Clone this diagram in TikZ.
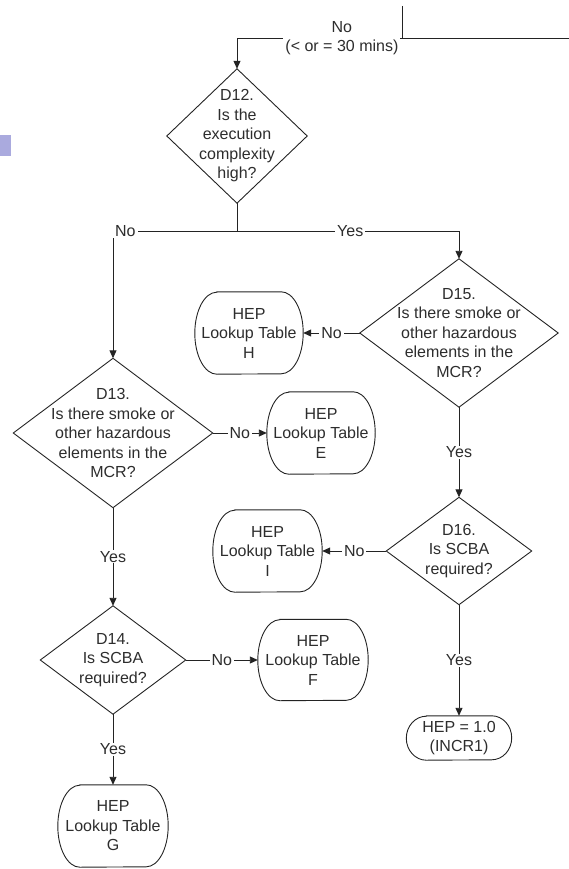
\documentclass[tikz,border=0pt]{standalone}
\usepackage{fontspec}
\setmainfont{Liberation Sans}
\usetikzlibrary{arrows.meta,calc}
\definecolor{ink}{RGB}{35,35,35}
\definecolor{txt}{RGB}{45,45,45}
\definecolor{tabmark}{RGB}{170,170,222}

% outline of a terminal box: node name, corner x radius, half height
\newcommand\termoutline[3]{%
  \draw[flowline] ([xshift=#2]#1.north west) -- ([xshift=-#2]#1.north east)
    arc[start angle=90,end angle=-90,x radius=#2,y radius=#3]
    -- ([xshift=#2]#1.south west)
    arc[start angle=270,end angle=90,x radius=#2,y radius=#3] -- cycle;}

\begin{document}
\begin{tikzpicture}[x=1pt,y=-1pt,
  every node/.style={font=\fontsize{16}{19.5}\selectfont, text=txt, align=center},
  decision/.style 2 args={minimum width=#1pt, minimum height=#2pt, inner sep=0pt},
  terminal/.style 2 args={minimum width=#1pt, minimum height=#2pt, inner sep=0pt},
  flowline/.style={draw=ink, line width=0.9pt},
  arrowline/.style={flowline, -{Triangle[length=8pt,width=7pt]}},
  lbl/.style={fill=white, inner xsep=2pt, inner ysep=1pt}]

\useasboundingbox (0,0) rectangle (569,869);

% side tab
\fill[tabmark] (0,135) rectangle (11,156);

% decisions
\node[decision={140}{134}] (d12) at (237,136) {D12.\\Is the\\execution\\complexity\\high?};
\node[decision={198}{148}] (d15) at (459,333) {D15.\\Is there smoke or\\other hazardous\\elements in the\\MCR?};
\node[decision={199}{149}] (d13) at (113,433) {D13.\\Is there smoke or\\other hazardous\\elements in the\\MCR?};
\node[decision={145}{107}] (d16) at (459,551) {D16.\\Is SCBA\\required?};
\node[decision={145}{108}] (d14) at (113,660) {D14.\\Is SCBA\\required?};
\foreach \n in {d12,d13,d14,d15,d16}
  \draw[flowline] (\n.north) -- (\n.east) -- (\n.south) -- (\n.west) -- cycle;

% outcomes
\node[terminal={108}{82}] (hH) at (249,333) {HEP\\Lookup Table\\H};
\node[terminal={108}{82}] (hE) at (321,433) {HEP\\Lookup Table\\E};
\node[terminal={109}{82}] (hI) at (267.5,551) {HEP\\Lookup Table\\I};
\node[terminal={110}{81}] (hF) at (313,660) {HEP\\Lookup Table\\F};
\node[terminal={110}{82}] (hG) at (113,826) {HEP\\Lookup Table\\G};
\node[terminal={105}{44}] (hX) at (459,738) {HEP = 1.0\\(INCR1)};
\termoutline{hH}{22pt}{41pt}
\termoutline{hE}{22pt}{41pt}
\termoutline{hI}{22pt}{41pt}
\termoutline{hF}{22pt}{40.5pt}
\termoutline{hG}{22pt}{41pt}
\termoutline{hX}{20pt}{22pt}

% incoming branch
\coordinate (feed) at (569,38);
\coordinate (tap) at (402,6);
\coordinate (tapjoin) at (402,38);
\draw[flowline] (tap) -- (tapjoin);
\draw[arrowline] (feed) -| node[lbl,pos=0.342]{No\\(< or = 30 mins)} (d12.north);

% D12 split
\coordinate (split) at (237,231);
\draw[flowline] (d12.south) -- (split);
\draw[arrowline] (split) -| node[lbl,pos=0.45]{No} (d13.north);
\draw[arrowline] (split) -| node[lbl,pos=0.255]{Yes} (d15.north);

% right column
\draw[arrowline] (d15.west) -- node[lbl]{No} (hH.east);
\draw[arrowline] (d15.south) -- node[lbl]{Yes} (d16.north);
\draw[arrowline] (d16.west) -- node[lbl]{No} (hI.east);
\draw[arrowline] (d16.south) -- node[lbl]{Yes} (hX.north);

% left column
\draw[arrowline] (d13.east) -- node[lbl]{No} (hE.west);
\draw[arrowline] (d13.south) -- node[lbl]{Yes} (d14.north);
\draw[arrowline] (d14.east) -- node[lbl]{No} (hF.west);
\draw[arrowline] (d14.south) -- node[lbl]{Yes} (hG.north);
\end{tikzpicture}
\end{document}
